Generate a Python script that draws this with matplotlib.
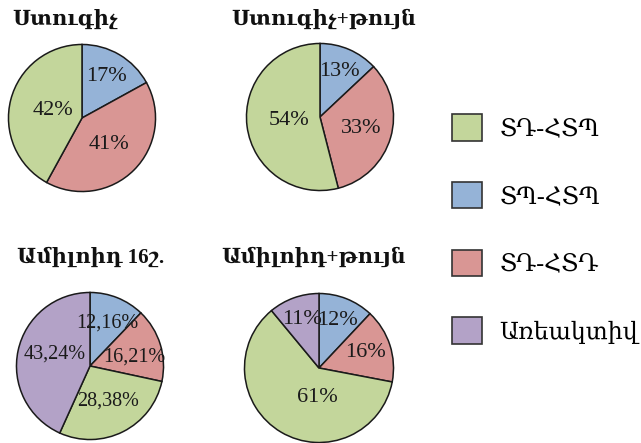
import matplotlib
matplotlib.use("Agg")
import matplotlib.pyplot as plt
from matplotlib.patches import Patch
import numpy as np

plt.rcParams['font.family'] = ['Liberation Serif', 'DejaVu Serif', 'DejaVu Sans']

# ---- data ----
titles = ["Ստուգիչ", "Ստուգիչ+թույն", "Ամիլոիդ 16շ.", "Ամիլոիդ+թույն"]
legend_labels = ["ՏԴ-ՀՏՊ", "ՏՊ-ՀՏՊ", "ՏԴ-ՀՏԴ", "Առեակտիվ"]
values_1 = [17, 41, 42]
values_2 = [13, 33, 54]
values_3 = [12.16, 16.21, 28.38, 43.24]
values_4 = [12, 16, 61, 11]
labels_1 = ["17%", "41%", "42%"]
labels_2 = ["13%", "33%", "54%"]
labels_3 = ["12,16%", "16,21%", "28,38%", "43,24%"]
labels_4 = ["12%", "16%", "61%", "11%"]
cats_1 = [1, 2, 0]
cats_2 = [1, 2, 0]
cats_3 = [1, 2, 0, 3]
cats_4 = [1, 2, 0, 3]

# ---- style ----
colors = ["#C3D69B", "#95B3D7", "#D99694", "#B3A2C7"]
W, H = 641, 443
fig = plt.figure(figsize=(W / 100, H / 100), dpi=100)

# (cx, cy, r) in pixels from top-left; label radial factors and angle offsets
pies = [
    dict(c=(82, 118, 75), v=values_1, l=labels_1, k=cats_1, lr=[0.65, 0.51, 0.41], da=[0, 0, 0], fs=16),
    dict(c=(320, 117, 75), v=values_2, l=labels_2, k=cats_2, lr=[0.67, 0.58, 0.43], da=[0, 0, 0], fs=16),
    dict(c=(90, 366, 75), v=values_3, l=labels_3, k=cats_3, lr=[0.63, 0.61, 0.54, 0.51], da=[0, -6, 0, -6], fs=14.5),
    dict(c=(319, 368, 76), v=values_4, l=labels_4, k=cats_4, lr=[0.69, 0.66, 0.40, 0.69], da=[0, 0, 27, 0], fs=16),
]
title_pos = [(65, 20), (324, 20), (91, 258), (314, 258)]

for p, t, tp in zip(pies, titles, title_pos):
    cx, cy, r = p['c']
    ax = fig.add_axes([(cx - r) / W, (H - cy - r) / H, 2 * r / W, 2 * r / H])
    wedges, _ = ax.pie(p['v'], colors=[colors[i] for i in p['k']], startangle=90,
                       counterclock=False, radius=1,
                       wedgeprops=dict(edgecolor='#1a1a1a', linewidth=1.1))
    ax.set_xlim(-1.02, 1.02)
    ax.set_ylim(-1.02, 1.02)
    for w, lab, lr, da in zip(wedges, p['l'], p['lr'], p['da']):
        ang = np.deg2rad((w.theta1 + w.theta2) / 2 + da)
        ax.text(lr * np.cos(ang), lr * np.sin(ang), lab, ha='center', va='center',
                fontsize=p['fs'], color='#1a1a1a')
    fig.text(tp[0] / W, 1 - tp[1] / H, t, ha='center', va='center', fontsize=15,
             fontweight='bold', color='#111111')

handles = [Patch(facecolor=c, edgecolor='#333333', linewidth=1.2) for c in colors]
fig.legend(handles, legend_labels, loc='upper left', bbox_to_anchor=(452 / W, 1 - 114 / H),
           frameon=False, fontsize=17, handlelength=1.25, handleheight=1.35,
           handletextpad=0.75, labelspacing=1.75, borderpad=0, borderaxespad=0)

fig.savefig("out.png", dpi=100)
